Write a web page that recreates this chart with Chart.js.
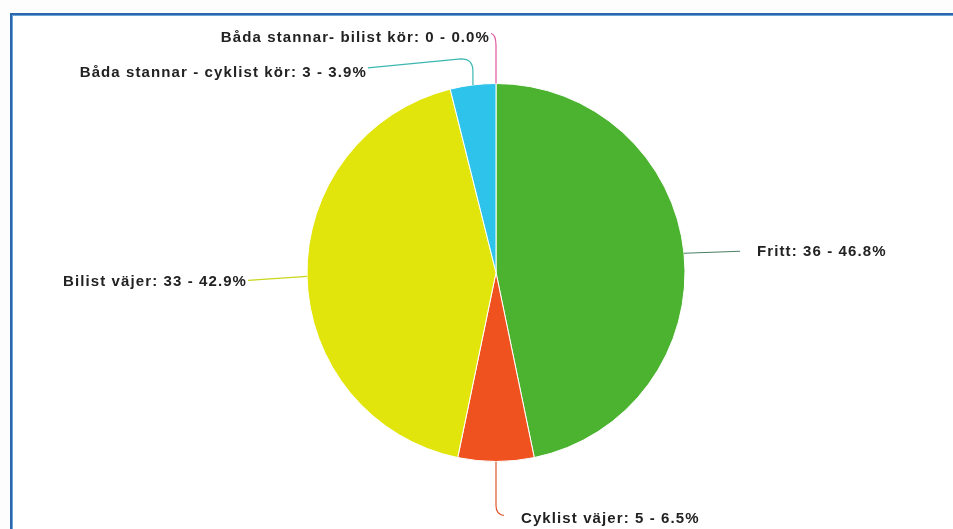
<!DOCTYPE html>
<html>
<head>
<meta charset="utf-8">
<script src="https://cdn.jsdelivr.net/npm/chart.js@4/dist/chart.umd.min.js"></script>
<style>
  html, body { margin: 0; padding: 0; background: #ffffff; overflow: hidden; }
  #wrap { position: relative; width: 953px; height: 529px; background: #fdfdfd; }
  #frame {
    position: absolute; left: 10px; top: 13px; width: 990px; height: 570px;
    border: 2px solid #2a67ad; box-shadow: inset 0 0 0 1px #6ea3d8;
    background: #ffffff; box-sizing: border-box;
  }
  #c { position: absolute; left: 0; top: 0; }
</style>
</head>
<body>
<div id="wrap">
  <div id="frame"></div>
  <canvas id="c" width="953" height="529"></canvas>
</div>
<script>
// Outcomes of car / cyclist encounters
const categories = [
  'Fritt',
  'Cyklist väjer',
  'Bilist väjer',
  'Båda stannar - cyklist kör',
  'Båda stannar- bilist kör'
];
const counts = [36, 5, 33, 3, 0];

const sliceColors = ['#4cb330', '#f0521f', '#e2e50c', '#2ec3ea', '#e8459b'];
const connectorColors = ['#4a7f66', '#e2552a', '#c9d61a', '#3cb8b0', '#e0559f'];

// Label placement relative to the slice's outer-edge midpoint:
// text anchor offset, alignment and the connector path drawn from the edge.
const labelLayout = [
  { dx: 73, dy: -1, align: 'left',  path: [['L', 56, -2]] },
  { dx: 25, dy: 57, align: 'left',  path: [['L', 0, 44], ['Q', 0, 53, 8, 54]] },
  { dx: -60, dy: 6, align: 'right', path: [['L', -59, 4]] },
  { dx: -106, dy: -12, align: 'right', path: [['L', 0, -14], ['Q', 0, -26, -12, -26], ['L', -105, -17]] },
  { dx: -6, dy: -46, align: 'right', path: [['L', 0, -38], ['Q', 0, -49, -5, -50]] }
];

const total = counts.reduce((a, b) => a + b, 0);

const pieLabels = {
  id: 'pieLabels',
  afterDatasetsDraw(chart) {
    const ctx = chart.ctx;
    const meta = chart.getDatasetMeta(0);
    ctx.save();
    ctx.font = 'bold 15px "Liberation Sans", Arial, sans-serif';
    ctx.letterSpacing = '1.1px';
    ctx.textBaseline = 'middle';
    meta.data.forEach((arc, i) => {
      const p = arc.getProps(['x', 'y', 'startAngle', 'endAngle', 'outerRadius'], true);
      const mid = (p.startAngle + p.endAngle) / 2;
      const ex = p.x + Math.cos(mid) * p.outerRadius;
      const ey = p.y + Math.sin(mid) * p.outerRadius;
      const lay = labelLayout[i];

      // connector
      ctx.beginPath();
      ctx.moveTo(ex, ey);
      lay.path.forEach(seg => {
        if (seg[0] === 'L') ctx.lineTo(ex + seg[1], ey + seg[2]);
        else ctx.quadraticCurveTo(ex + seg[1], ey + seg[2], ex + seg[3], ey + seg[4]);
      });
      ctx.strokeStyle = connectorColors[i];
      ctx.lineWidth = 1.2;
      ctx.stroke();

      // text
      const pct = total ? (counts[i] / total * 100) : 0;
      const txt = categories[i] + ': ' + counts[i] + ' - ' + pct.toFixed(1) + '%';
      ctx.fillStyle = '#222222';
      ctx.textAlign = lay.align;
      ctx.fillText(txt, ex + lay.dx, ey + lay.dy);
    });
    ctx.restore();
  }
};

new Chart(document.getElementById('c'), {
  type: 'pie',
  data: {
    labels: categories,
    datasets: [{
      data: counts,
      backgroundColor: sliceColors,
      borderColor: '#ffffff',
      borderWidth: 1,
      hoverBorderWidth: 1,
      hoverOffset: 0
    }]
  },
  options: {
    responsive: false,
    animation: false,
    layout: { padding: { top: 83, bottom: 67, left: 100, right: 61 } },
    plugins: {
      legend: { display: false },
      tooltip: { enabled: false }
    }
  },
  plugins: [pieLabels]
});
</script>
</body>
</html>
